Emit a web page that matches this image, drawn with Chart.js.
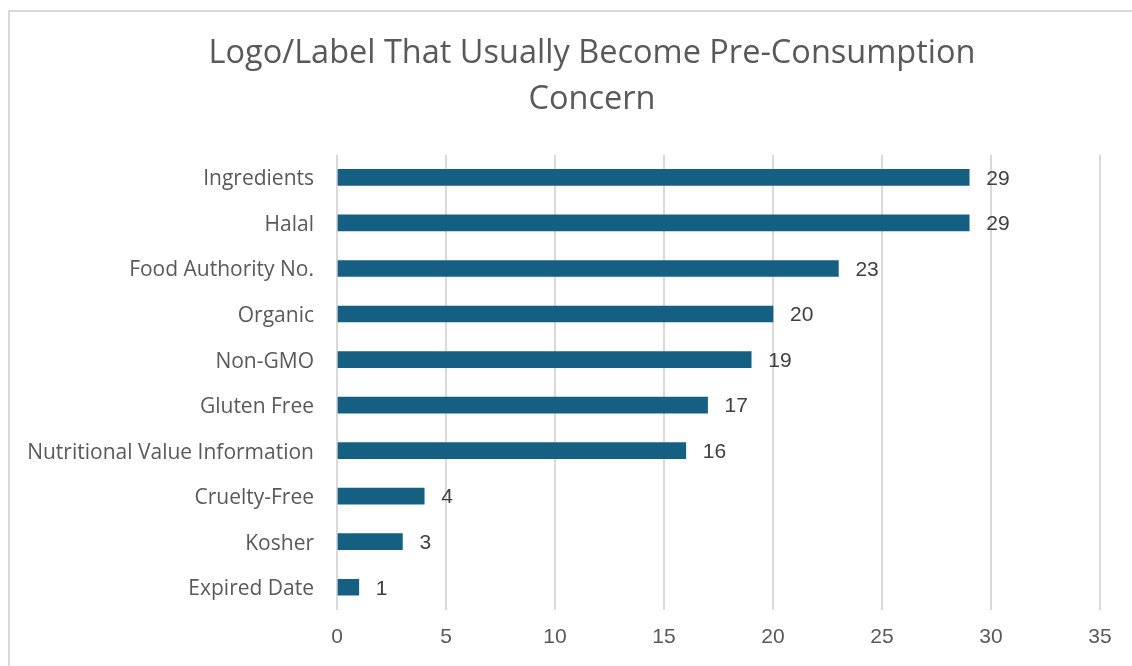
<!DOCTYPE html>
<html>
<head>
<meta charset="utf-8">
<script src="https://cdn.jsdelivr.net/npm/chart.js@4/dist/chart.umd.min.js"></script>
<style>
  html, body { margin: 0; padding: 0; background: #ffffff; overflow: hidden; }
  #c { display: block; }
</style>
</head>
<body>
<canvas id="c" width="1132" height="666"></canvas>
<script>
const titleLines = ['Logo/Label That Usually Become Pre-Consumption', 'Concern'];
const categories = ['Ingredients', 'Halal', 'Food Authority No.', 'Organic', 'Non-GMO',
  'Gluten Free', 'Nutritional Value Information', 'Cruelty-Free', 'Kosher', 'Expired Date'];
const counts = [29, 29, 23, 20, 19, 17, 16, 4, 3, 1];
const xTicks = [0, 5, 10, 15, 20, 25, 30, 35];

const frame = {
  id: 'frame',
  beforeDraw(chart) {
    const ctx = chart.ctx;
    ctx.save();
    ctx.strokeStyle = '#d9d9d9';
    ctx.lineWidth = 2;
    ctx.beginPath();
    ctx.moveTo(9, chart.height);
    ctx.lineTo(9, 11);
    ctx.lineTo(chart.width, 11);
    ctx.stroke();
    ctx.restore();
  }
};

// Centre the title over the original (wider) chart frame
const titleShift = {
  id: 'titleShift',
  afterLayout(chart) {
    const t = chart.titleBlock;
    if (t) { t.left = 84; t.width = t.right - t.left; }
  }
};

const valueLabels = {
  id: 'valueLabels',
  afterDatasetsDraw(chart) {
    const ctx = chart.ctx;
    const meta = chart.getDatasetMeta(0);
    ctx.save();
    ctx.font = '21px "Liberation Sans", Arial, sans-serif';
    ctx.fillStyle = '#404040';
    ctx.textAlign = 'left';
    ctx.textBaseline = 'middle';
    meta.data.forEach((bar, i) => {
      ctx.fillText(String(chart.data.datasets[0].data[i]), bar.x + 17, bar.y + 1.5);
    });
    ctx.restore();
  }
};

new Chart(document.getElementById('c'), {
  type: 'bar',
  data: {
    labels: categories,
    datasets: [{
      data: counts,
      backgroundColor: '#156082',
      borderWidth: 0,
      barThickness: 16
    }]
  },
  options: {
    indexAxis: 'y',
    responsive: false,
    animation: false,
    layout: { padding: { left: 0, right: 32, top: 0, bottom: 0 } },
    plugins: {
      legend: { display: false },
      tooltip: { enabled: false },
      title: {
        display: true,
        text: titleLines,
        color: '#595959',
        font: { family: '"Open Sans", sans-serif', size: 32.5, weight: 'normal', lineHeight: 1.41 },
        padding: { top: 31, bottom: 32 }
      }
    },
    scales: {
      x: {
        min: 0,
        max: 35,
        afterBuildTicks(scale) { scale.ticks = xTicks.map(v => ({ value: v })); },
        afterFit(scale) { scale.height = 56; },
        grid: { color: '#d9d9d9', lineWidth: 2, drawTicks: false },
        border: { display: false },
        ticks: {
          color: '#595959',
          padding: 15,
          font: { family: '"Liberation Sans", Arial, sans-serif', size: 21 }
        }
      },
      y: {
        afterFit(scale) { scale.width = 337; },
        grid: { display: false, drawTicks: false },
        border: { display: false },
        ticks: {
          color: '#595959',
          padding: 23,
          labelOffset: 2,
          font: { family: '"Open Sans", sans-serif', size: 21 }
        }
      }
    }
  },
  plugins: [frame, titleShift, valueLabels]
});
</script>
</body>
</html>
